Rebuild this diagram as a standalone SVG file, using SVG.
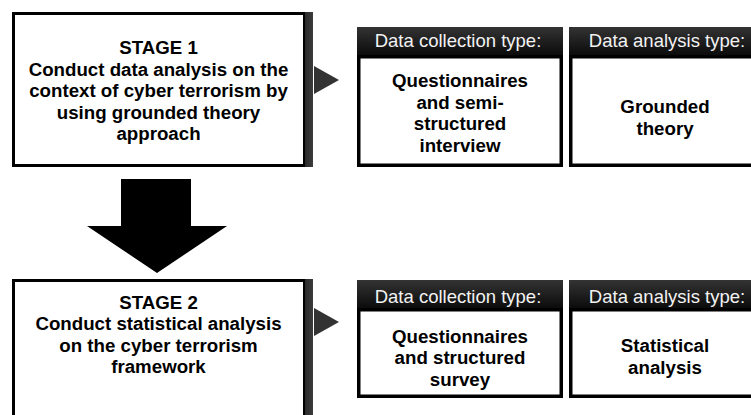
<svg xmlns="http://www.w3.org/2000/svg" width="751" height="415" viewBox="0 0 751 415">
  <defs>
    <linearGradient id="hdr" x1="0" y1="0" x2="0" y2="1">
      <stop offset="0" stop-color="#333333"/>
      <stop offset="1" stop-color="#0a0a0a"/>
    </linearGradient>
    <linearGradient id="shd" x1="0" y1="0" x2="1" y2="0">
      <stop offset="0" stop-color="#2a2a2a"/>
      <stop offset="1" stop-color="#3c3c3c"/>
    </linearGradient>
  </defs>
  <style>
    .stage { fill: #ffffff; stroke: #000000; stroke-width: 3; }
    .box { fill: #ffffff; stroke: #000000; stroke-width: 3.5; }
    .hdr { fill: url(#hdr); }
    .shadow { fill: url(#shd); }
    .ptr { fill: #333333; }
    .bold { font-family: "Liberation Sans", Arial, sans-serif; font-weight: bold; font-size: 18.7px; fill: #000000; text-anchor: middle; }
    .htxt { font-family: "Liberation Sans", Arial, sans-serif; font-size: 18.5px; fill: #f2f2f2; text-anchor: middle; }
  </style>

  <g id="stage1">
    <rect class="stage" x="13.5" y="13.5" width="291" height="152"/>
    <rect class="shadow" x="305" y="12" width="8" height="155"/>
    <text class="bold" x="158.5" y="54">STAGE 1</text>
    <text class="bold" x="158.5" y="75.5">Conduct data analysis on the</text>
    <text class="bold" x="158.5" y="97">context of cyber terrorism by</text>
    <text class="bold" x="158.5" y="118.5">using grounded theory</text>
    <text class="bold" x="158.5" y="140">approach</text>
  </g>

  <g id="collection1">
    <rect class="hdr" x="357" y="27" width="206" height="29"/>
    <text class="htxt" x="458" y="47">Data collection type:</text>
    <rect class="box" x="358.75" y="56.75" width="202.5" height="108.5"/>
    <text class="bold" x="460" y="87">Questionnaires</text>
    <text class="bold" x="460" y="108.5">and semi-</text>
    <text class="bold" x="460" y="130">structured</text>
    <text class="bold" x="460" y="151.5">interview</text>
  </g>

  <g id="analysis1">
    <rect class="hdr" x="569" y="27" width="200" height="29"/>
    <text class="htxt" x="667" y="47">Data analysis type:</text>
    <rect class="box" x="570.75" y="56.75" width="200" height="108.5"/>
    <text class="bold" x="665" y="113">Grounded</text>
    <text class="bold" x="665" y="135">theory</text>
  </g>

  <g id="stage2">
    <rect class="stage" x="13.5" y="280.5" width="291" height="160"/>
    <rect class="shadow" x="305" y="279" width="8" height="145"/>
    <text class="bold" x="158.5" y="308.5">STAGE 2</text>
    <text class="bold" x="158.5" y="330">Conduct statistical analysis</text>
    <text class="bold" x="158.5" y="351.5">on the cyber terrorism</text>
    <text class="bold" x="158.5" y="373">framework</text>
  </g>

  <g id="collection2">
    <rect class="hdr" x="357" y="280" width="206" height="29"/>
    <text class="htxt" x="458" y="303">Data collection type:</text>
    <rect class="box" x="358.75" y="309.75" width="202.5" height="86.5"/>
    <text class="bold" x="460" y="342.5">Questionnaires</text>
    <text class="bold" x="460" y="364">and structured</text>
    <text class="bold" x="460" y="385.5">survey</text>
  </g>

  <g id="analysis2">
    <rect class="hdr" x="569" y="280" width="200" height="29"/>
    <text class="htxt" x="667" y="303">Data analysis type:</text>
    <rect class="box" x="570.75" y="309.75" width="200" height="86.5"/>
    <text class="bold" x="665" y="352">Statistical</text>
    <text class="bold" x="665" y="374">analysis</text>
  </g>

  <g id="connectors">
    <polygon class="ptr" points="314,66 339,80 314,94"/>
    <polygon class="ptr" points="314,308 339,322 314,336"/>
    <polygon fill="#000000" points="121,179 191,179 191,226 227,226 157,273 87,226 121,226"/>
  </g>
</svg>
